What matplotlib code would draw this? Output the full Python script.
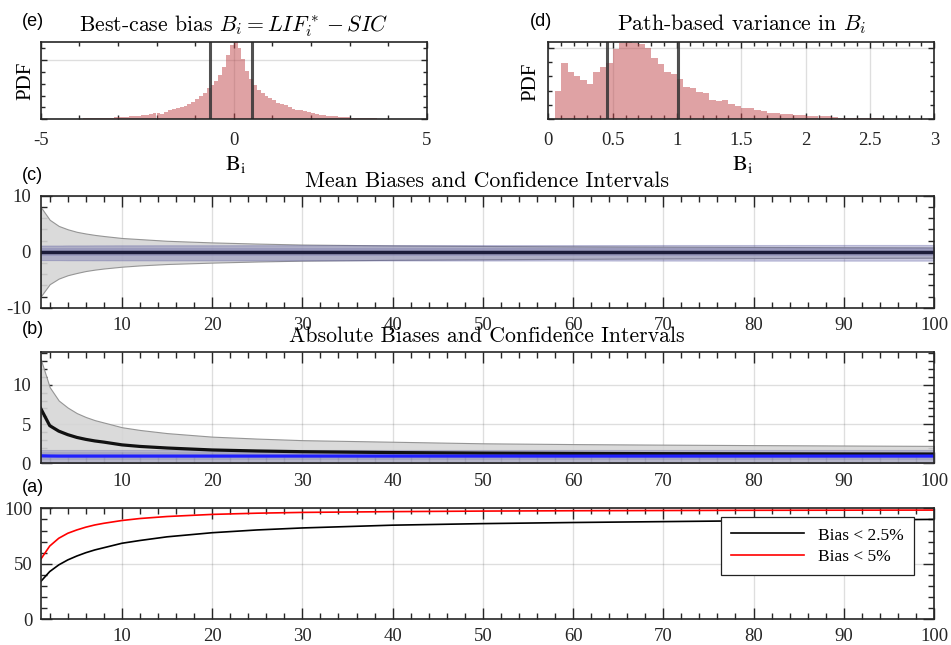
import matplotlib
matplotlib.use('Agg')
import matplotlib.pyplot as plt
import numpy as np
from matplotlib.ticker import MultipleLocator, NullFormatter

plt.rcParams['axes.unicode_minus'] = False
plt.rcParams['font.family'] = ['Liberation Serif', 'DejaVu Serif']

# ---------------- data ----------------
# (e) best-case bias histogram (bin width 0.1 from -5)
e_start, e_width = -5.0, 0.1
e_pdf = [0.002, 0.002, 0.003, 0.003, 0.003, 0.004, 0.004, 0.005, 0.005, 0.006,
         0.006, 0.007, 0.008, 0.008, 0.009, 0.010, 0.011, 0.012, 0.014, 0.016,
         0.017, 0.020, 0.022, 0.025, 0.028, 0.032, 0.036, 0.040, 0.048, 0.053,
         0.050, 0.046, 0.062, 0.078, 0.088, 0.095, 0.105, 0.112, 0.128, 0.150,
         0.170, 0.195, 0.225, 0.260, 0.290, 0.320, 0.370, 0.440, 0.540, 0.630,
         0.660, 0.600, 0.510, 0.410, 0.340, 0.290, 0.250, 0.220, 0.195, 0.180,
         0.160, 0.140, 0.128, 0.120, 0.100, 0.090, 0.082, 0.078, 0.068, 0.060,
         0.052, 0.045, 0.040, 0.036, 0.032, 0.028, 0.025, 0.022, 0.019, 0.016,
         0.014, 0.012, 0.011, 0.010, 0.009, 0.008, 0.007, 0.006, 0.006, 0.005,
         0.005, 0.004, 0.004, 0.003, 0.003, 0.003, 0.002, 0.002, 0.002, 0.002]
e_lines = [-0.61, 0.48]

# (d) path-based variance histogram (bin width 0.05 from 0.05)
d_start, d_width = 0.05, 0.05
d_pdf = [0.39, 0.786, 0.665, 0.605, 0.544, 0.498, 0.66, 0.726, 0.78, 0.98,
         1.065, 1.09, 1.07, 1.047, 0.995, 0.85, 0.777, 0.656, 0.637, 0.563,
         0.447, 0.437, 0.381, 0.367, 0.274, 0.251, 0.27, 0.214, 0.18, 0.16,
         0.155, 0.125, 0.12, 0.09, 0.088, 0.075, 0.072, 0.06, 0.055, 0.045,
         0.043, 0.042, 0.04, 0.035, 0.025, 0.022, 0.025, 0.018, 0.016, 0.015,
         0.012, 0.010, 0.008, 0.007, 0.005, 0.004, 0.003, 0.002, 0.001]
d_lines = [0.455, 1.01]

# sample sizes
n_pts = [1, 2, 3, 4, 5, 6, 7, 8, 10, 12, 15, 20, 25, 30, 40, 50, 60, 70, 80, 90, 100]

# (c) mean biases
c_gray_hi = [8.0, 5.7, 4.6, 4.0, 3.55, 3.25, 3.0, 2.8, 2.45, 2.25, 1.95, 1.66, 1.45, 1.28,
             1.12, 1.02, 0.95, 0.9, 0.85, 0.8, 0.77]
c_gray_lo = [-8.0, -5.8, -4.8, -4.2, -3.8, -3.45, -3.2, -3.0, -2.68, -2.45, -2.2, -1.95,
             -1.75, -1.6, -1.45, -1.35, -1.27, -1.2, -1.15, -1.1, -1.07]
c_band_hi = [1.1, 1.1, 1.1, 1.12, 1.12, 1.12, 1.13, 1.13, 1.14, 1.14, 1.15, 1.15, 1.16,
             1.16, 1.17, 1.18, 1.18, 1.19, 1.19, 1.2, 1.2]
c_band_lo = [-1.5, -1.5, -1.5, -1.52, -1.52, -1.52, -1.53, -1.53, -1.54, -1.54, -1.55,
             -1.55, -1.56, -1.56, -1.57, -1.58, -1.58, -1.59, -1.6, -1.6, -1.6]
c_inner_hi = [0.6] * 21
c_inner_lo = [-0.85] * 21
c_mean = [0.0] * 21

# (b) absolute biases
b_gray_hi = [13.3, 9.7, 8.0, 7.1, 6.4, 5.9, 5.5, 5.2, 4.6, 4.25, 3.85, 3.4, 3.15, 2.95,
             2.75, 2.55, 2.45, 2.38, 2.32, 2.27, 2.22]
b_band_hi = [1.75] * 21
b_band_lo = [0.05] * 21
b_inner_hi = [1.45] * 21
b_inner_lo = [0.4] * 21
b_mean_abs = [7.0, 4.8, 4.1, 3.65, 3.3, 3.05, 2.85, 2.7, 2.35, 2.15, 1.95, 1.7, 1.57,
              1.48, 1.37, 1.3, 1.26, 1.23, 1.21, 1.19, 1.18]
b_best = [0.95, 0.93, 0.92, 0.92, 0.92, 0.92, 0.92, 0.92, 0.92, 0.92, 0.92, 0.92, 0.92,
          0.92, 0.92, 0.92, 0.92, 0.92, 0.92, 0.92, 0.92]

# (a) percentage within bias thresholds
a_25 = [34, 43, 49, 53.5, 57, 60, 62.5, 64.5, 68.5, 71, 74.3, 78, 80.5, 82.3, 84.8,
        86.2, 87.2, 88, 88.8, 89.4, 90]
a_5 = [54, 66, 73, 77.5, 80.5, 83, 85, 86.5, 89, 90.8, 92.6, 94.5, 95.6, 96.3, 97.0,
       97.5, 97.8, 98.0, 98.2, 98.3, 98.4]
legend_labels = ['Bias < 2.5%', 'Bias < 5%']

# ---------------- figure ----------------
W, H = 951, 645
fig = plt.figure(figsize=(W / 100, H / 100), dpi=100)

def px_axes(l, t, r, b):
    return fig.add_axes([l / W, 1 - b / H, (r - l) / W, (b - t) / H])

AX = (0.15, 0.15, 0.15)
TICKFS = 13.5

def style(ax, maj_len=6, min_len=3.5, pad=4):
    for s in ax.spines.values():
        s.set_color(AX)
        s.set_linewidth(1.2)
    ax.tick_params(which='both', direction='in', top=True, right=True,
                   colors=AX, labelcolor=AX, labelsize=TICKFS, width=1.0)
    ax.tick_params(which='major', length=maj_len, pad=pad)
    ax.tick_params(which='minor', length=min_len)
    ax.grid(which='major', color=AX, alpha=0.15, linewidth=1.0)
    ax.set_axisbelow(True)

hist_col = '#c0474b'

# (e)
ax_e = px_axes(40.7, 41.7, 426.7, 119.3)
style(ax_e, maj_len=4, min_len=3, pad=9)
edges_e = e_start + e_width * np.arange(len(e_pdf))
ax_e.bar(edges_e, e_pdf, width=e_width, align='edge', color=hist_col, alpha=0.5, linewidth=0)
for v in e_lines:
    ax_e.axvline(v, color='#333333', linewidth=2.2, alpha=0.85)
ax_e.set_xlim(-5, 5)
ax_e.set_ylim(0, 0.654)
ax_e.xaxis.set_major_locator(MultipleLocator(5))
ax_e.xaxis.set_minor_locator(MultipleLocator(1))
ax_e.yaxis.set_major_locator(MultipleLocator(0.5))
ax_e.yaxis.set_minor_locator(MultipleLocator(0.1))
ax_e.yaxis.set_major_formatter(NullFormatter())

# (d)
ax_d = px_axes(548.3, 41.7, 934.3, 119.3)
style(ax_d, maj_len=4, min_len=3, pad=9)
edges_d = d_start + d_width * np.arange(len(d_pdf))
ax_d.bar(edges_d, d_pdf, width=d_width, align='edge', color=hist_col, alpha=0.5, linewidth=0)
for v in d_lines:
    ax_d.axvline(v, color='#333333', linewidth=2.2, alpha=0.85)
ax_d.set_xlim(0, 3)
ax_d.set_ylim(0, 1.084)
ax_d.xaxis.set_major_locator(MultipleLocator(0.5))
ax_d.xaxis.set_minor_locator(MultipleLocator(0.1))
ax_d.yaxis.set_major_locator(MultipleLocator(1))
ax_d.yaxis.set_minor_locator(MultipleLocator(0.2))
ax_d.yaxis.set_major_formatter(NullFormatter())
ax_d.set_xticks([0, 0.5, 1, 1.5, 2, 2.5, 3])
ax_d.set_xticklabels(['0', '0.5', '1', '1.5', '2', '2.5', '3'])

band_col = (0.3, 0.3, 0.6)

# (c)
ax_c = px_axes(40.7, 195.7, 934.0, 307.7)
style(ax_c, maj_len=8, min_len=4, pad=7)
ax_c.fill_between(n_pts, c_gray_lo, c_gray_hi, facecolor=(0.84, 0.84, 0.84),
                  edgecolor=(0.55, 0.55, 0.55), linewidth=0.8, alpha=0.9)
ax_c.fill_between(n_pts, c_band_lo, c_band_hi, facecolor=band_col, alpha=0.3,
                  edgecolor=(0.3, 0.3, 0.6, 0.4), linewidth=0.8)
ax_c.fill_between(n_pts, c_inner_lo, c_inner_hi, facecolor=band_col, alpha=0.2, linewidth=0)
ax_c.plot(n_pts, c_mean, color='#1c1c3a', linewidth=2.5)
ax_c.set_xlim(1, 100)
ax_c.set_ylim(-10, 10)
ax_c.xaxis.set_major_locator(MultipleLocator(10))
ax_c.xaxis.set_minor_locator(MultipleLocator(2))
ax_c.yaxis.set_major_locator(MultipleLocator(10))
ax_c.yaxis.set_minor_locator(MultipleLocator(2))

# (b)
ax_b = px_axes(40.7, 352.3, 934.0, 463.3)
style(ax_b, maj_len=8, min_len=4, pad=7)
ax_b.fill_between(n_pts, [0] * len(n_pts), b_gray_hi, facecolor=(0.84, 0.84, 0.84),
                  edgecolor=(0.55, 0.55, 0.55), linewidth=0.8, alpha=0.9)
ax_b.fill_between(n_pts, b_band_lo, b_band_hi, facecolor=band_col, alpha=0.25,
                  edgecolor=(0.3, 0.3, 0.6, 0.4), linewidth=0.8)
ax_b.fill_between(n_pts, b_inner_lo, b_inner_hi, facecolor=band_col, alpha=0.15, linewidth=0)
ax_b.plot(n_pts, b_mean_abs, color='#111111', linewidth=2.3)
ax_b.plot(n_pts, b_best, color='#1f1fff', linewidth=2.3)
ax_b.set_xlim(1, 100)
ax_b.set_ylim(0, 14.15)
ax_b.xaxis.set_major_locator(MultipleLocator(10))
ax_b.xaxis.set_minor_locator(MultipleLocator(2))
ax_b.yaxis.set_major_locator(MultipleLocator(5))
ax_b.yaxis.set_minor_locator(MultipleLocator(1))

# (a)
ax_a = px_axes(40.7, 508.3, 934.0, 619.3)
style(ax_a, maj_len=8, min_len=4, pad=6)
ax_a.plot(n_pts, a_25, color='black', linewidth=1.2, label=legend_labels[0])
ax_a.plot(n_pts, a_5, color='red', linewidth=1.2, label=legend_labels[1])
ax_a.set_xlim(1, 100)
ax_a.set_ylim(0, 100)
ax_a.xaxis.set_major_locator(MultipleLocator(10))
ax_a.xaxis.set_minor_locator(MultipleLocator(2))
ax_a.yaxis.set_major_locator(MultipleLocator(50))
ax_a.yaxis.set_minor_locator(MultipleLocator(10))
leg = ax_a.legend(loc='upper right', bbox_to_anchor=(0.9776, 0.9216), borderaxespad=0,
                  fontsize=12.5, handlelength=4.2, labelspacing=0.3, fancybox=False,
                  framealpha=1, edgecolor='#222222', borderpad=0.6, handletextpad=0.8)
leg.get_frame().set_linewidth(0.9)

for ax in (ax_c, ax_b, ax_a):
    ax.set_xticks(range(10, 101, 10))

# ---------------- texts ----------------
def ftext(x, y, s, **kw):
    fig.text(x / W, 1 - y / H, s, **kw)

title_kw = dict(ha='center', va='baseline', fontsize=15.7, family='cmr10', math_fontfamily='cm')
ftext(233.7, 31, r'Best-case bias $B_i = LIF_i^* - SIC$', **title_kw)
ftext(741.3, 30, r'Path-based variance in $B_i$', **title_kw)
ftext(487.3, 187, 'Mean Biases and Confidence Intervals', **title_kw)
ftext(487.3, 342, 'Absolute Biases and Confidence Intervals', **title_kw)

lab_kw = dict(ha='left', va='center', fontsize=13, family='Liberation Sans')
ftext(22, 21, '(e)', **lab_kw)
ftext(530, 21, '(d)', **lab_kw)
ftext(22, 175, '(c)', **lab_kw)
ftext(22, 330, '(b)', **lab_kw)
ftext(22, 488, '(a)', **lab_kw)

ylab_kw = dict(ha='center', va='center', rotation=90, fontsize=15, color='black')
ftext(26, 81, 'PDF', **ylab_kw)
ftext(531, 82, 'PDF', **ylab_kw)

xlab_kw = dict(ha='center', va='baseline', fontsize=16, math_fontfamily='stix')
ftext(236, 170, r'$\mathrm{B}_{\mathrm{i}}$', **xlab_kw)
ftext(743, 170, r'$\mathrm{B}_{\mathrm{i}}$', **xlab_kw)

fig.savefig('out.png', dpi=100)
